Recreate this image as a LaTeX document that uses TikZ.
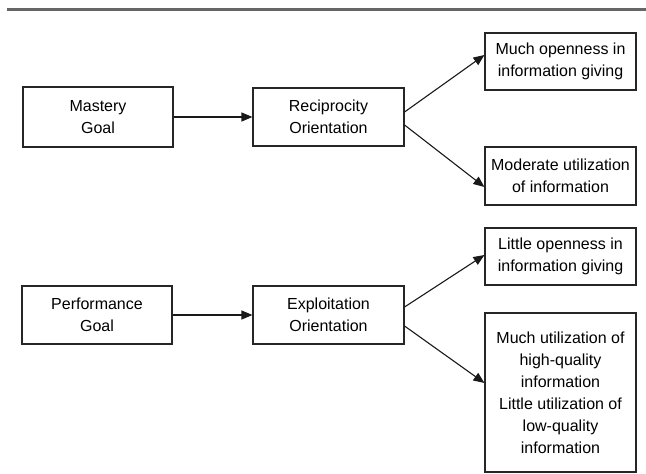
\documentclass[tikz,border=0pt]{standalone}
\usepackage{fontspec}
\setmainfont{Liberation Sans}
\usetikzlibrary{arrows.meta, positioning, calc}
\tikzset{
    box/.style = {rectangle, draw=black!85, line width=1.1pt, align=center, inner sep=0pt,
                  minimum width=151pt, minimum height=58pt, font=\fontsize{16}{22}\selectfont},
    arr/.style = {-{Triangle[length=11pt, width=9pt]}, line width=1.1pt, draw=black!90}
}
\begin{document}
\begin{tikzpicture}[x=1pt, y=-1pt]
\useasboundingbox (0,0) rectangle (646,474);
% Top rule
\draw[line width=2.5pt, black!60] (7,9.5) -- (646,9.5);

% Upper row
\node[box, minimum width=150pt, minimum height=60pt] (MG) at (98, 117) {Mastery\\Goal};
\node[box] (RO) at (328.5, 117) {Reciprocity\\Orientation};
\node[box, minimum height=57pt] (MO) at (560.5, 61.5) {Much openness in\\information giving};
\node[box] (MU) at (560.5, 176) {Moderate utilization\\of information};

% Lower row
\node[box, minimum width=150pt] (PG) at (97, 315) {Performance\\Goal};
\node[box] (EO) at (328.5, 315) {Exploitation\\Orientation};
\node[box, minimum height=57pt] (LO) at (560.5, 256.5) {Little openness in\\information giving};
\node[box, minimum height=159pt] (HQ) at (560.5, 392.5) {Much utilization of\\high-quality\\information\\Little utilization of\\low-quality\\information};

% Goal -> Orientation
\draw[arr] (MG.east) -- (RO.west);
\draw[arr] (PG.east) -- (EO.west);

% Reciprocity -> outcomes
\draw[arr] ([yshift=5pt]RO.east) -- ([yshift=6.5pt]MO.west);
\draw[arr] ([yshift=-8pt]RO.east) -- ([yshift=-11pt]MU.west);

% Exploitation -> outcomes
\draw[arr] ([yshift=8pt]EO.east) -- ([yshift=1.5pt]LO.west);
\draw[arr] ([yshift=-11pt]EO.east) -- ([yshift=9.5pt]HQ.west);
\end{tikzpicture}
\end{document}
